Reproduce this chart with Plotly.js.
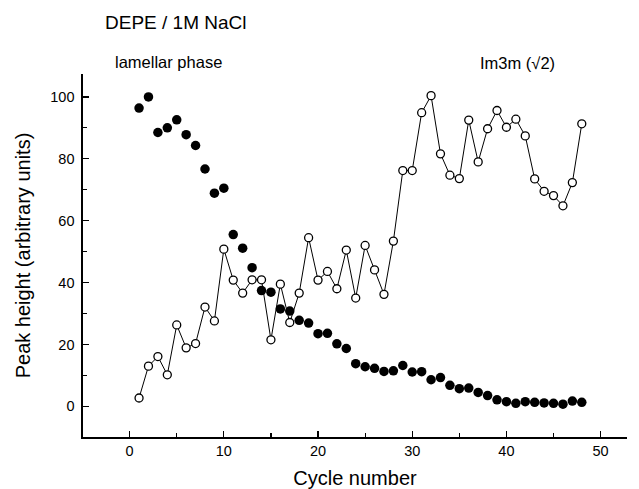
<!DOCTYPE html>
<html>
<head>
<meta charset="utf-8">
<script src="https://cdn.plot.ly/plotly-3.0.1.min.js"></script>
<style>html,body{margin:0;padding:0;background:#fff;}#chart{width:639px;height:489px;}</style>
</head>
<body>
<div id="chart"></div>
<script>
const cycles = [1,2,3,4,5,6,7,8,9,10,11,12,13,14,15,16,17,18,19,20,21,22,23,24,25,26,27,28,29,30,31,32,33,34,35,36,37,38,39,40,41,42,43,44,45,46,47,48];
const lamellar = [96.4,100,88.5,90,92.6,87.8,84.3,76.7,68.9,70.5,55.5,51.1,44.8,37.4,36.9,31.5,30.8,27.8,26.9,23.5,23.6,20.2,18.7,13.8,12.8,12.3,11.3,11.5,13.2,11.1,11.2,8.6,9.3,6.8,5.7,5.9,4.5,3.5,2.1,1.5,1.0,1.5,1.3,1.1,1.0,0.7,1.7,1.3];
const im3m = [2.7,13.0,16.1,10.2,26.3,18.9,20.3,32.1,27.6,50.8,40.8,36.6,40.9,40.9,21.5,39.5,27.1,36.6,54.5,40.8,43.6,38.0,50.5,35.0,52.0,44.1,36.2,53.4,76.2,76.2,94.9,100.4,81.6,74.7,73.6,92.5,79.0,89.7,95.6,90.2,92.8,87.4,73.5,69.5,68.1,64.8,72.3,91.3];
const xTicks = [0,10,20,30,40,50];
const yTicks = [0,20,40,60,80,100];

const FONT = "Liberation Sans, Arial, Helvetica, sans-serif";

const traces = [
  {x: cycles, y: lamellar, type: 'scatter', mode: 'markers', name: 'lamellar phase',
   marker: {symbol: 'circle', size: 9.5, color: '#000', line: {width: 0}}},
  {x: cycles, y: im3m, type: 'scatter', mode: 'lines+markers', name: 'Im3m (√2)',
   line: {color: '#000', width: 1},
   marker: {symbol: 'circle', size: 8, color: '#fff', line: {color: '#000', width: 1.3}}}
];

const axisCommon = {
  showline: true, linecolor: '#000', linewidth: 1.6, mirror: false,
  showgrid: false, zeroline: false,
  ticks: 'inside', ticklen: 6, tickwidth: 1.2, tickcolor: '#000',
  tickfont: {family: FONT, size: 14.5, color: '#000'}
};

const layout = {
  width: 639, height: 489,
  margin: {l: 83, r: 12, t: 74, b: 52},
  paper_bgcolor: '#fff', plot_bgcolor: '#fff',
  showlegend: false,
  font: {family: FONT, color: '#000'},
  xaxis: Object.assign({}, axisCommon, {
    range: [-4.95, 52.8], tickmode: 'array', tickvals: xTicks, ticktext: xTicks.map(String),
    minor: {ticks: 'inside', ticklen: 4, tickwidth: 1.2, tickcolor: '#000', dtick: 5, tick0: 0},
    title: {text: 'Cycle number', font: {family: FONT, size: 20, color: '#000'}, standoff: 14}
  }),
  yaxis: Object.assign({}, axisCommon, {
    range: [-9.9, 107.4], tickmode: 'array', tickvals: yTicks, ticktext: yTicks.map(String),
    minor: {ticks: 'inside', ticklen: 4, tickwidth: 1.2, tickcolor: '#000', dtick: 10, tick0: 0},
    ticklabelstandoff: 4,
    title: {text: 'Peak height (arbitrary units)', font: {family: FONT, size: 20, color: '#000'}, standoff: 14}
  }),
  annotations: [
    {text: 'DEPE / 1M NaCl', xref: 'paper', yref: 'paper', x: 0.037, y: 1.143, xanchor: 'left', yanchor: 'middle',
     showarrow: false, font: {family: FONT, size: 19, color: '#000'}},
    {text: 'lamellar phase', xref: 'paper', yref: 'paper', x: 0.056, y: 1.033, xanchor: 'left', yanchor: 'middle',
     showarrow: false, font: {family: FONT, size: 16.5, color: '#000'}},
    {text: 'Im3m (√2)', xref: 'paper', yref: 'paper', x: 0.727, y: 1.030, xanchor: 'left', yanchor: 'middle',
     showarrow: false, font: {family: FONT, size: 16.5, color: '#000'}}
  ]
};

Plotly.newPlot('chart', traces, layout, {displayModeBar: false, staticPlot: true});
</script>
</body>
</html>
